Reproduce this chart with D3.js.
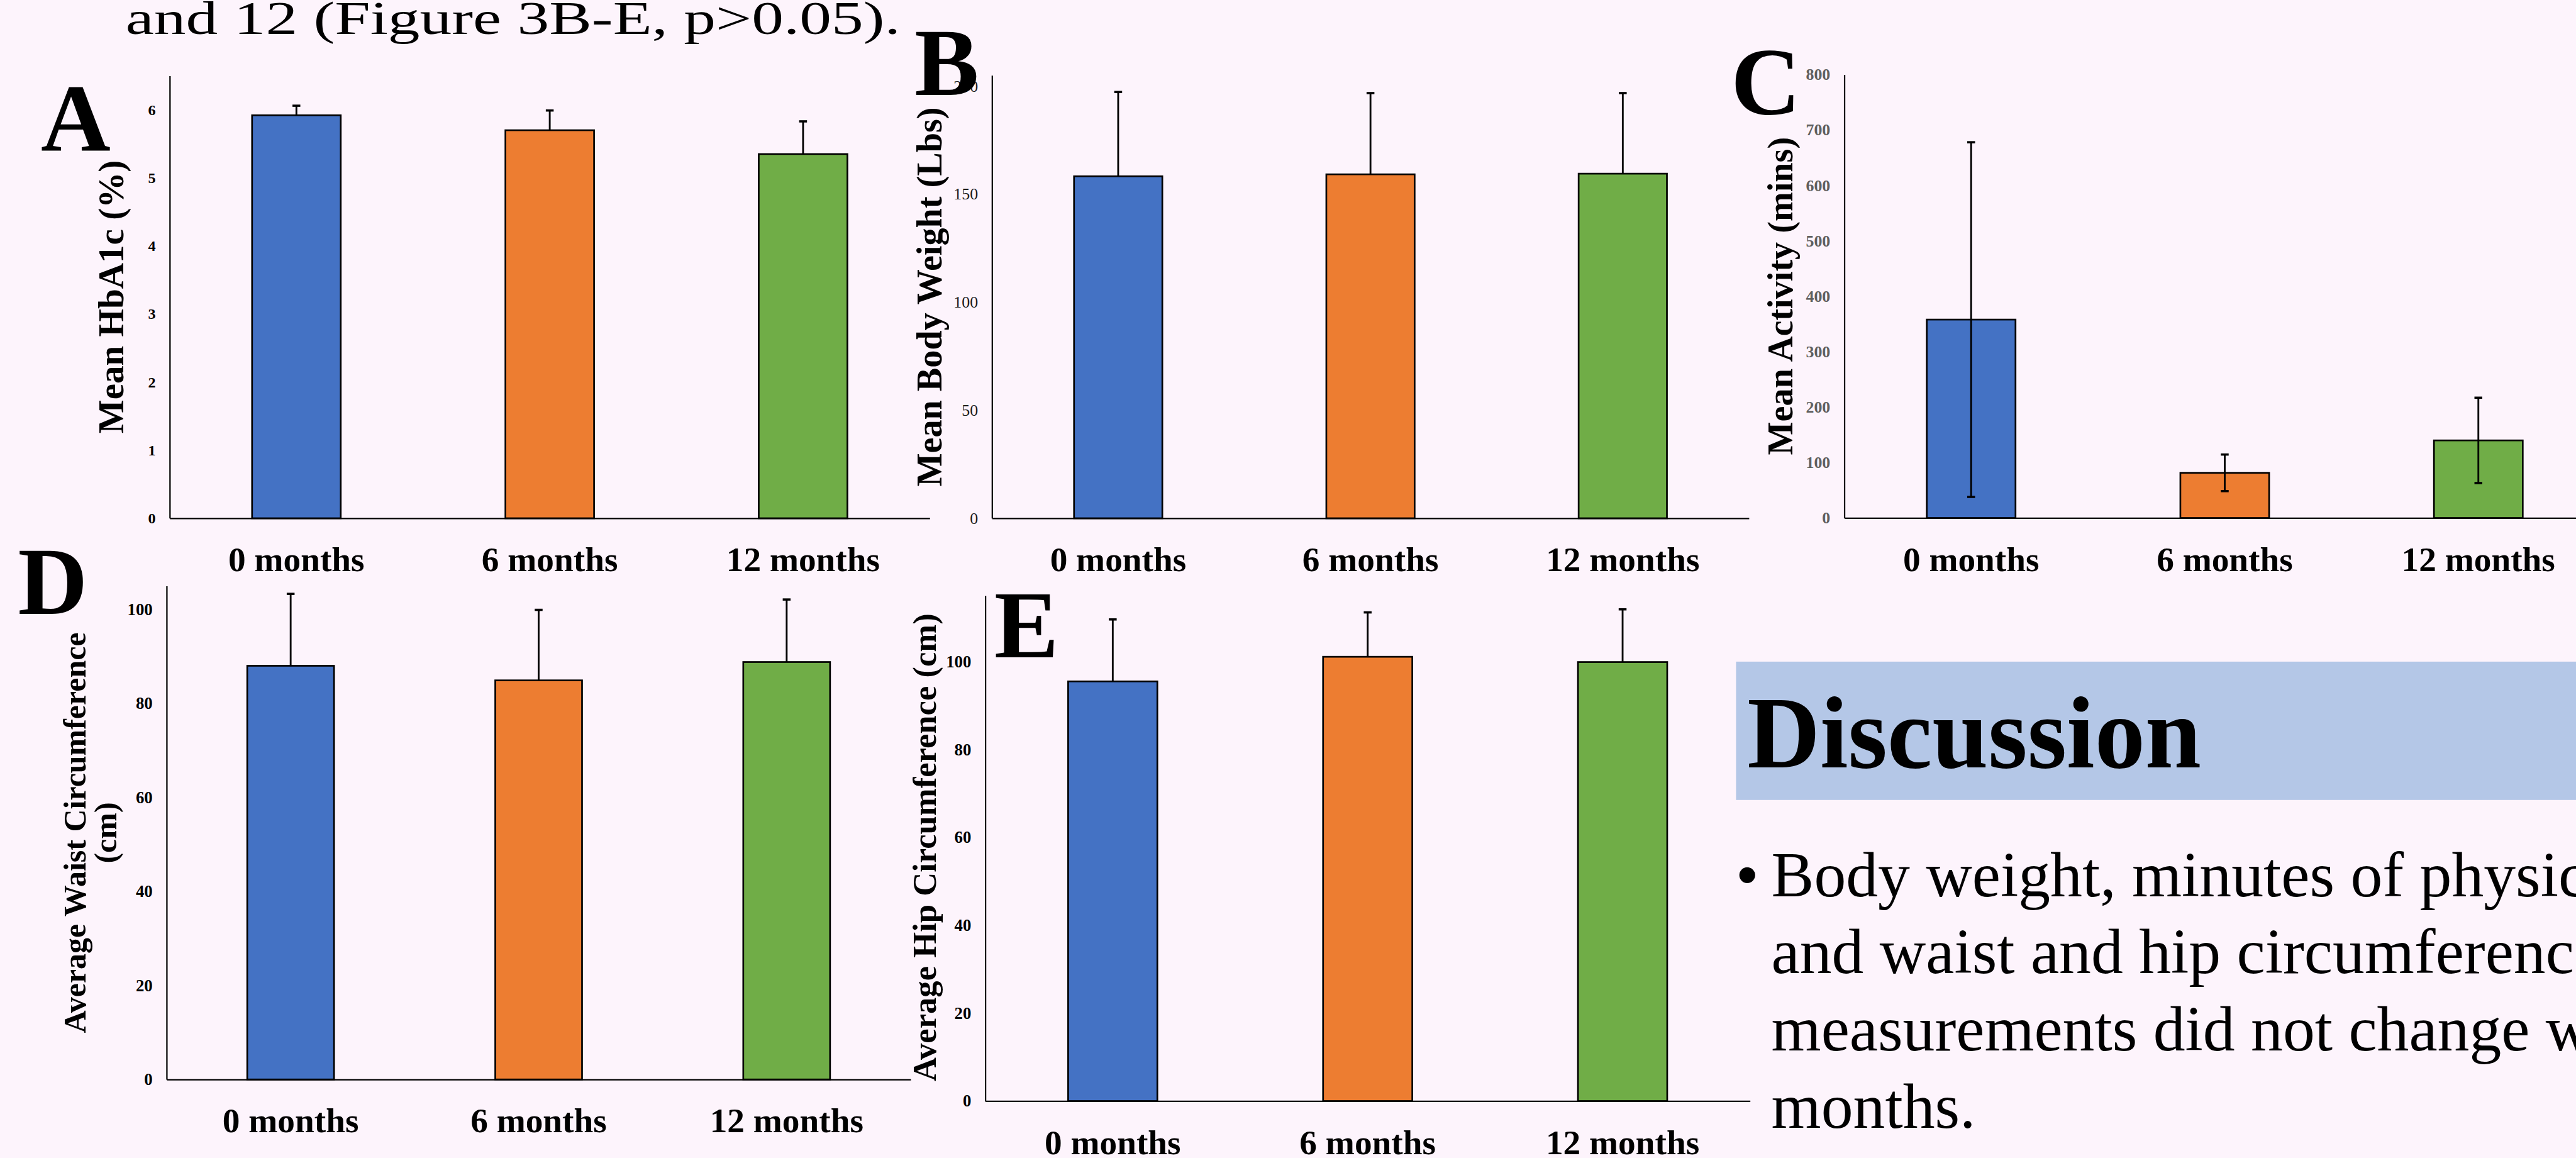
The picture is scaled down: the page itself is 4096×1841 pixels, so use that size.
<!DOCTYPE html>
<html>
<head>
<meta charset="utf-8">
<script src="https://cdn.jsdelivr.net/npm/d3@7"></script>
<style>
  html, body { margin: 0; padding: 0; background: #fdf4fc; overflow: hidden; }
  svg { display: block; }
</style>
</head>
<body>
<svg id="chart" width="4096" height="1841"></svg>
<script>
const categories = ["0 months", "6 months", "12 months"];
const barColors = ["#4472C4", "#ED7D31", "#70AD47"];

const hba1cMean = [5.92, 5.70, 5.35];
const hba1cErr = [0.14, 0.29, 0.48];
const hba1cTicks = [0, 1, 2, 3, 4, 5, 6];

const weightMean = [158.3, 159.2, 159.5];
const weightErr = [39.0, 37.6, 37.3];
const weightTicks = [0, 50, 100, 150, 200];

const activityMean = [358, 81.5, 140];
const activityErr = [320, 33, 77];
const activityTicks = [0, 100, 200, 300, 400, 500, 600, 700, 800];

const waistMean = [88.0, 84.9, 88.8];
const waistErr = [15.3, 15.0, 13.3];
const waistTicks = [0, 20, 40, 60, 80, 100];

const hipMean = [95.5, 101.1, 99.9];
const hipErr = [14.1, 10.1, 12.0];
const hipTicks = [0, 20, 40, 60, 80, 100];

const serif = "'Liberation Serif', 'Times New Roman', serif";
const S = 4096 / 4591;

const svg = d3.select("#chart");
svg.append("rect").attr("width", 4096).attr("height", 1841).attr("fill", "#fdf4fc");
const g = svg.append("g").attr("transform", `scale(${S})`);

// heading line cut off at the top of the poster
g.append("text")
    .attr("x", 224).attr("y", 61)
    .attr("font-family", serif).attr("font-size", 84)
    .attr("textLength", 1381).attr("lengthAdjust", "spacingAndGlyphs")
    .text("and 12 (Figure 3B-E, p>0.05).");

const panels = [
    { letter: "A", lx: 73, ly: 268, mean: hba1cMean, err: hba1cErr, ticks: hba1cTicks, yMax: 6.5, both: false,
      left: 302.5, right: 1657, top: 135, bottom: 923.5, labelY: 1018,
      tick: { size: 27, weight: "bold", color: "#000" },
      title: ["Mean HbA1c (%)"], titleX: [220], titleY: 529, titleSize: 64 },
    { letter: "B", lx: 1630, ly: 169, mean: weightMean, err: weightErr, ticks: weightTicks, yMax: 205, both: false,
      left: 1768, right: 3117, top: 134.3, bottom: 923.5, labelY: 1018,
      tick: { size: 29, weight: "normal", color: "#1a1a1a" },
      title: ["Mean Body Weight (Lbs)"], titleX: [1678], titleY: 529, titleSize: 63 },
    { letter: "C", lx: 3085, ly: 204, mean: activityMean, err: activityErr, ticks: activityTicks, yMax: 800, both: true,
      left: 3287, right: 4643, top: 133, bottom: 923, labelY: 1018,
      tick: { size: 29, weight: "bold", color: "#5f5f5f" },
      title: ["Mean Activity (mins)"], titleX: [3194], titleY: 527.5, titleSize: 63 },
    { letter: "D", lx: 32, ly: 1094, mean: waistMean, err: waistErr, ticks: waistTicks, yMax: 105, both: false,
      left: 297, right: 1623, top: 1044, bottom: 1923.5, labelY: 2018,
      tick: { size: 30, weight: "bold", color: "#000" },
      title: ["Average Waist Circumference", "(cm)"], titleX: [152, 207], titleY: 1484, titleSize: 56 },
    { letter: "E", lx: 1772, ly: 1171, mean: hipMean, err: hipErr, ticks: hipTicks, yMax: 115, both: false,
      left: 1756, right: 3119, top: 1061.5, bottom: 1962, labelY: 2057,
      tick: { size: 30, weight: "bold", color: "#000" },
      title: ["Average Hip Circumference (cm)"], titleX: [1668], titleY: 1510, titleSize: 59 }
];

panels.forEach(drawPanel);

function drawPanel(p) {
    const x = d3.scaleBand().domain(categories).range([p.left, p.right]);
    const y = d3.scaleLinear().domain([0, p.yMax]).range([p.bottom, p.top]);
    const bw = x.bandwidth() * 0.35;
    const pg = g.append("g");

    const yAxis = pg.append("g")
        .attr("transform", `translate(${p.left},0)`)
        .call(d3.axisLeft(y).tickValues(p.ticks).tickFormat(d3.format("d"))
            .tickSize(0).tickSizeOuter(0).tickPadding(25));
    yAxis.select(".domain").attr("stroke", "#000").attr("stroke-width", 2.5);
    yAxis.selectAll("text")
        .attr("font-family", serif)
        .attr("font-size", p.tick.size)
        .attr("font-weight", p.tick.weight)
        .attr("fill", p.tick.color);

    const xAxis = pg.append("g")
        .attr("transform", `translate(0,${p.bottom})`)
        .call(d3.axisBottom(x).tickSize(0).tickSizeOuter(0).tickFormat(""));
    xAxis.select(".domain").attr("stroke", "#000").attr("stroke-width", 2.5);

    const rows = categories.map((c, i) => ({ c, v: p.mean[i], e: p.err[i], color: barColors[i] }));

    pg.selectAll(".bar")
        .data(rows)
        .enter().append("rect")
        .attr("class", "bar")
        .attr("x", d => x(d.c) + (x.bandwidth() - bw) / 2)
        .attr("width", bw)
        .attr("y", d => y(d.v))
        .attr("height", d => y(0) - y(d.v))
        .attr("fill", d => d.color)
        .attr("stroke", "#000")
        .attr("stroke-width", 3);

    const cx = d => x(d.c) + x.bandwidth() / 2;
    const lo = d => p.both ? y(d.v - d.e) : y(d.v);

    pg.selectAll(".err")
        .data(rows)
        .enter().append("line")
        .attr("x1", cx).attr("x2", cx)
        .attr("y1", lo).attr("y2", d => y(d.v + d.e))
        .attr("stroke", "#000").attr("stroke-width", 3.2);

    pg.selectAll(".capTop")
        .data(rows)
        .enter().append("line")
        .attr("x1", d => cx(d) - 7).attr("x2", d => cx(d) + 7)
        .attr("y1", d => y(d.v + d.e)).attr("y2", d => y(d.v + d.e))
        .attr("stroke", "#000").attr("stroke-width", 4);

    if (p.both) {
        pg.selectAll(".capLow")
            .data(rows)
            .enter().append("line")
            .attr("x1", d => cx(d) - 7).attr("x2", d => cx(d) + 7)
            .attr("y1", d => y(d.v - d.e)).attr("y2", d => y(d.v - d.e))
            .attr("stroke", "#000").attr("stroke-width", 4);
    }

    pg.selectAll(".xlab")
        .data(categories)
        .enter().append("text")
        .attr("x", d => x(d) + x.bandwidth() / 2)
        .attr("y", p.labelY)
        .attr("text-anchor", "middle")
        .attr("font-family", serif)
        .attr("font-size", 62)
        .attr("font-weight", "bold")
        .text(d => d);

    p.title.forEach((t, i) => {
        pg.append("text")
            .attr("transform", `translate(${p.titleX[i]},${p.titleY}) rotate(-90)`)
            .attr("text-anchor", "middle")
            .attr("font-family", serif)
            .attr("font-size", p.titleSize)
            .attr("font-weight", "bold")
            .text(t);
    });

    pg.append("text")
        .attr("x", p.lx).attr("y", p.ly)
        .attr("font-family", serif)
        .attr("font-size", 172)
        .attr("font-weight", "bold")
        .text(p.letter);
}

// Discussion block
g.append("rect")
    .attr("x", 3094).attr("y", 1179)
    .attr("width", 1520).attr("height", 246.5)
    .attr("fill", "#B4C7E7");

g.append("text")
    .attr("x", 3114).attr("y", 1367)
    .attr("font-family", serif).attr("font-size", 184).attr("font-weight", "bold")
    .attr("textLength", 809).attr("lengthAdjust", "spacingAndGlyphs")
    .text("Discussion");

g.append("text")
    .attr("x", 3114).attr("y", 1594)
    .attr("text-anchor", "middle")
    .attr("font-family", "'Liberation Sans', Arial, sans-serif").attr("font-size", 104)
    .text("\u2022");

const bulletLines = [
    "Body weight, minutes of physical activity,",
    "and waist and hip circumference",
    "measurements did not change within 12",
    "months."
];
const bulletY = [1597, 1734, 1872, 2010];

g.selectAll(".bullet")
    .data(bulletLines)
    .enter().append("text")
    .attr("x", 3157)
    .attr("y", (d, i) => bulletY[i])
    .attr("font-family", serif)
    .attr("font-size", 114)
    .text(d => d);
</script>
</body>
</html>
